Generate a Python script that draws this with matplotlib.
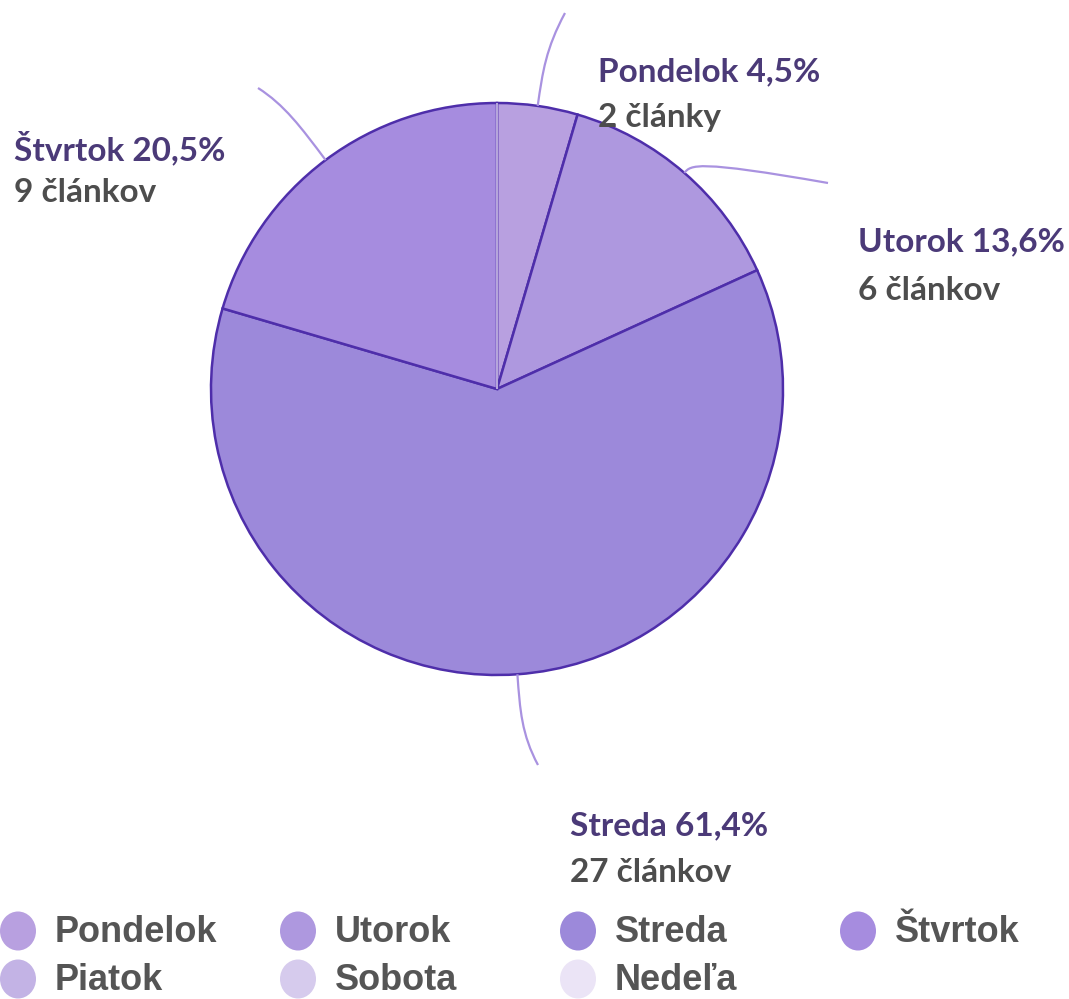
import numpy as np
import matplotlib
matplotlib.use("Agg")
import matplotlib.pyplot as plt
from matplotlib.path import Path
from matplotlib.patches import PathPatch, Ellipse

# dáta
dni = ['Pondelok', 'Utorok', 'Streda', 'Štvrtok', 'Piatok', 'Sobota', 'Nedeľa']
clanky = [2, 6, 27, 9, 0, 0, 0]
popisy_pocet = ['2 články', '6 článkov', '27 článkov', '9 článkov', '', '', '']
farby = ['#b8a0e0', '#ae98df', '#9c89da', '#a68cdf', '#c3b3e5', '#d6cbed', '#ebe4f6']

W, H = 1069, 999
fig = plt.figure(figsize=(W / 100, H / 100), dpi=100)
ax = fig.add_axes([0, 0, 1, 1])

cx, cy, R = 497, H - 389, 286
wedges, _ = ax.pie(clanky, colors=farby, startangle=90, counterclock=False,
                   radius=R, center=(cx, cy), frame=True,
                   wedgeprops=dict(linewidth=1.8, edgecolor='#4e2eaa'))
ax.set_xlim(0, W)
ax.set_ylim(0, H)
ax.set_aspect('equal')
ax.axis('off')
for w, v in zip(wedges, clanky):
    if v == 0:
        w.set_edgecolor('#b6a6dc')
        w.set_linewidth(1.2)
        w.set_zorder(3)

# popisky s čiarami (koniec čiary a pozícia textu v pixeloch)
koniec = {0: (565, 13), 1: (828, 183), 2: (538, 765), 3: (258, 88)}
ohyb = {0: 0.6, 1: 0.12, 2: 0.65, 3: 0.7}
text_pos = {0: (598, 72, 118), 1: (858, 242, 290), 2: (570, 826, 872), 3: (14, 148, 193)}
total = sum(clanky)
cum = 0
for i, v in enumerate(clanky):
    if v == 0:
        continue
    mid = (cum + v / 2) / total * 2 * np.pi
    cum += v
    ux, uy = np.sin(mid), np.cos(mid)
    p0 = (cx + R * ux, cy + R * uy)
    ex, ey = koniec[i]
    ey = H - ey
    d = np.hypot(ex - p0[0], ey - p0[1])
    k = ohyb[i]
    c1 = (p0[0] + ux * d * k * 0.6, p0[1] + uy * d * k * 0.6)
    c2 = (p0[0] + ux * d * k, p0[1] + uy * d * k)
    path = Path([p0, c1, c2, (ex, ey)], [Path.MOVETO, Path.CURVE4, Path.CURVE4, Path.CURVE4])
    ax.add_patch(PathPatch(path, fc='none', ec='#a992e0', lw=1.6, zorder=1))
    tx, ty1, ty2 = text_pos[i]
    pct = f"{v / total * 100:.1f}".replace('.', ',')
    ax.text(tx, H - ty1, f"{dni[i]} {pct}%", family=['Lato', 'DejaVu Sans'], weight='bold',
            fontsize=24, color='#4b3a78', va='center', ha='left')
    ax.text(tx, H - ty2, popisy_pocet[i], family=['Lato', 'DejaVu Sans'], weight='bold',
            fontsize=24, color='#4d4d4d', va='center', ha='left')

# legenda
for i, (d, f) in enumerate(zip(dni, farby)):
    col, row = i % 4, i // 4
    lx = 18 + col * 280
    ly = H - (931 + row * 48)
    ax.add_patch(Ellipse((lx, ly), 36, 39, fc=f, ec='none'))
    ax.text(lx + 37, ly - 1, d, family=['Liberation Sans', 'DejaVu Sans'], weight='bold',
            fontsize=26, color='#555555', va='center', ha='left')

fig.savefig('out.png', dpi=100, facecolor='white')
